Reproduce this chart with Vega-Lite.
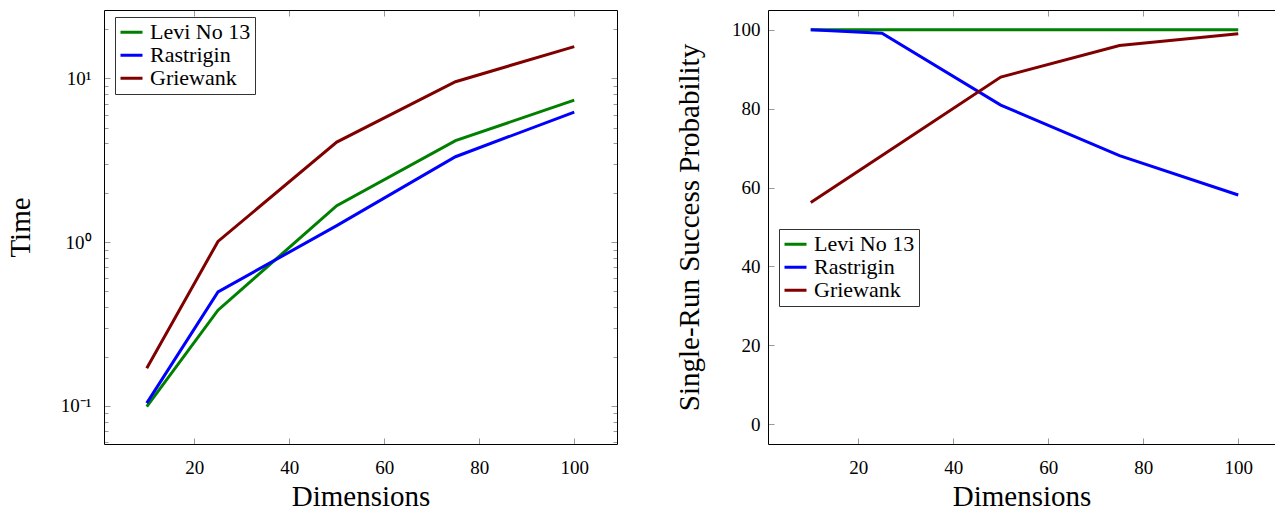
{
  "$schema": "https://vega.github.io/schema/vega-lite/v6.json",
  "background": "white",
  "padding": {"left": 6, "top": 9, "right": 0, "bottom": 0},
  "config": {
    "font": "Liberation Serif",
    "view": {"stroke": null},
    "axis": {
      "labelFont": "Liberation Serif",
      "labelFontSize": 19,
      "labelColor": "#000",
      "titleFont": "Liberation Serif",
      "titleFontSize": 29,
      "titleFontWeight": "normal",
      "titleColor": "#000",
      "grid": false,
      "domainColor": "#000",
      "domainWidth": 1,
      "tickColor": "#999",
      "tickWidth": 1
    },
    "legend": {
      "labelFont": "Liberation Serif",
      "labelFontSize": 22,
      "labelColor": "#000",
      "symbolType": "stroke",
      "symbolStrokeWidth": 3,
      "symbolSize": 484,
      "labelOffset": 6,
      "rowPadding": 0,
      "clipHeight": 22.7,
      "padding": 4,
      "strokeColor": "#333",
      "fillColor": "#fff",
      "cornerRadius": 0
    }
  },
  "datasets": {
    "time": [
      {"fn": "Levi No 13", "dim": 10, "time": 0.099},
      {"fn": "Levi No 13", "dim": 25, "time": 0.384},
      {"fn": "Levi No 13", "dim": 50, "time": 1.67},
      {"fn": "Levi No 13", "dim": 75, "time": 4.16},
      {"fn": "Levi No 13", "dim": 100, "time": 7.36},
      {"fn": "Rastrigin", "dim": 10, "time": 0.104},
      {"fn": "Rastrigin", "dim": 25, "time": 0.497},
      {"fn": "Rastrigin", "dim": 50, "time": 1.26},
      {"fn": "Rastrigin", "dim": 75, "time": 3.32},
      {"fn": "Rastrigin", "dim": 100, "time": 6.22},
      {"fn": "Griewank", "dim": 10, "time": 0.17},
      {"fn": "Griewank", "dim": 25, "time": 1.01},
      {"fn": "Griewank", "dim": 50, "time": 4.08},
      {"fn": "Griewank", "dim": 75, "time": 9.53},
      {"fn": "Griewank", "dim": 100, "time": 15.6}
    ],
    "success": [
      {"fn": "Levi No 13", "dim": 10, "prob": 100},
      {"fn": "Levi No 13", "dim": 25, "prob": 100},
      {"fn": "Levi No 13", "dim": 50, "prob": 100},
      {"fn": "Levi No 13", "dim": 75, "prob": 100},
      {"fn": "Levi No 13", "dim": 100, "prob": 100},
      {"fn": "Rastrigin", "dim": 10, "prob": 100},
      {"fn": "Rastrigin", "dim": 25, "prob": 99.1},
      {"fn": "Rastrigin", "dim": 50, "prob": 80.9},
      {"fn": "Rastrigin", "dim": 75, "prob": 68.1},
      {"fn": "Rastrigin", "dim": 100, "prob": 58.1},
      {"fn": "Griewank", "dim": 10, "prob": 56.2},
      {"fn": "Griewank", "dim": 25, "prob": 68.1},
      {"fn": "Griewank", "dim": 50, "prob": 88.0},
      {"fn": "Griewank", "dim": 75, "prob": 96.0},
      {"fn": "Griewank", "dim": 100, "prob": 99.0}
    ]
  },
  "spacing": 57,
  "resolve": {"legend": {"color": "independent"}},
  "hconcat": [
    {
      "width": 513,
      "height": 434,
      "data": {"name": "time"},
      "layer": [
        {
          "mark": {"type": "line", "strokeWidth": 3, "strokeJoin": "miter"},
          "encoding": {
            "x": {
              "field": "dim", "type": "quantitative",
              "scale": {"domain": [1, 109], "nice": false, "zero": false},
              "axis": {"orient": "bottom", "values": [20, 40, 60, 80, 100], "tickSize": -6, "labelPadding": 20, "title": "Dimensions", "titlePadding": 5}
            },
            "y": {
              "field": "time", "type": "quantitative",
              "scale": {"type": "log", "domain": [0.0586, 26.1], "nice": false},
              "axis": {
                "orient": "left",
                "values": [0.06, 0.07, 0.08, 0.09, 0.1, 0.2, 0.3, 0.4, 0.5, 0.6, 0.7, 0.8, 0.9, 1, 2, 3, 4, 5, 6, 7, 8, 9, 10, 20],
                "labelExpr": "datum.value == 0.1 ? '10⁻¹' : datum.value == 1 ? '10⁰' : datum.value == 10 ? '10¹' : ''",
                "tickSize": {"condition": {"test": "datum.value == 0.1 || datum.value == 1 || datum.value == 10", "value": -6}, "value": -4},
                "labelPadding": 19,
                "title": "Time",
                "titlePadding": 25
              }
            },
            "color": {
              "field": "fn", "type": "nominal",
              "scale": {"domain": ["Levi No 13", "Rastrigin", "Griewank"], "range": ["#008000", "#0000ff", "#800000"]},
              "legend": {"orient": "none", "legendX": 11, "legendY": 7, "title": null, "labelFont": "Liberation Serif", "labelFontSize": 22}
            }
          }
        },
        {
          "mark": {"type": "point", "opacity": 0},
          "encoding": {
            "x": {
              "field": "dim", "type": "quantitative",
              "scale": {"domain": [1, 109], "nice": false, "zero": false},
              "axis": {"orient": "top", "values": [20, 40, 60, 80, 100], "tickSize": -6, "labels": false, "title": null}
            },
            "y": {
              "field": "time", "type": "quantitative",
              "scale": {"type": "log", "domain": [0.0586, 26.1], "nice": false},
              "axis": {
                "orient": "right",
                "values": [0.06, 0.07, 0.08, 0.09, 0.1, 0.2, 0.3, 0.4, 0.5, 0.6, 0.7, 0.8, 0.9, 1, 2, 3, 4, 5, 6, 7, 8, 9, 10, 20],
                "tickSize": {"condition": {"test": "datum.value == 0.1 || datum.value == 1 || datum.value == 10", "value": -6}, "value": -4},
                "labels": false,
                "title": null
              }
            }
          }
        }
      ],
      "resolve": {"axis": {"x": "independent", "y": "independent"}}
    },
    {
      "width": 507,
      "height": 434,
      "data": {"name": "success"},
      "layer": [
        {
          "mark": {"type": "line", "strokeWidth": 3, "strokeJoin": "miter"},
          "encoding": {
            "x": {
              "field": "dim", "type": "quantitative",
              "scale": {"domain": [1, 107.737], "nice": false, "zero": false},
              "axis": {"orient": "bottom", "values": [20, 40, 60, 80, 100], "tickSize": -6, "labelPadding": 20, "title": "Dimensions", "titlePadding": 5}
            },
            "y": {
              "field": "prob", "type": "quantitative",
              "scale": {"domain": [-5, 105], "nice": false, "zero": false},
              "axis": {"orient": "left", "values": [0, 20, 40, 60, 80, 100], "tickSize": -6, "labelPadding": 14, "title": "Single-Run Success Probability", "titlePadding": 27}
            },
            "color": {
              "field": "fn", "type": "nominal",
              "scale": {"domain": ["Levi No 13", "Rastrigin", "Griewank"], "range": ["#008000", "#0000ff", "#800000"]},
              "legend": {"orient": "none", "legendX": 11, "legendY": 219, "title": null, "labelFont": "Liberation Serif", "labelFontSize": 22}
            }
          }
        },
        {
          "mark": {"type": "point", "opacity": 0},
          "encoding": {
            "x": {
              "field": "dim", "type": "quantitative",
              "scale": {"domain": [1, 107.737], "nice": false, "zero": false},
              "axis": {"orient": "top", "values": [20, 40, 60, 80, 100], "tickSize": -6, "labels": false, "title": null}
            },
            "y": {
              "field": "prob", "type": "quantitative",
              "scale": {"domain": [-5, 105], "nice": false, "zero": false}
            }
          }
        }
      ],
      "resolve": {"axis": {"x": "independent"}}
    }
  ]
}
